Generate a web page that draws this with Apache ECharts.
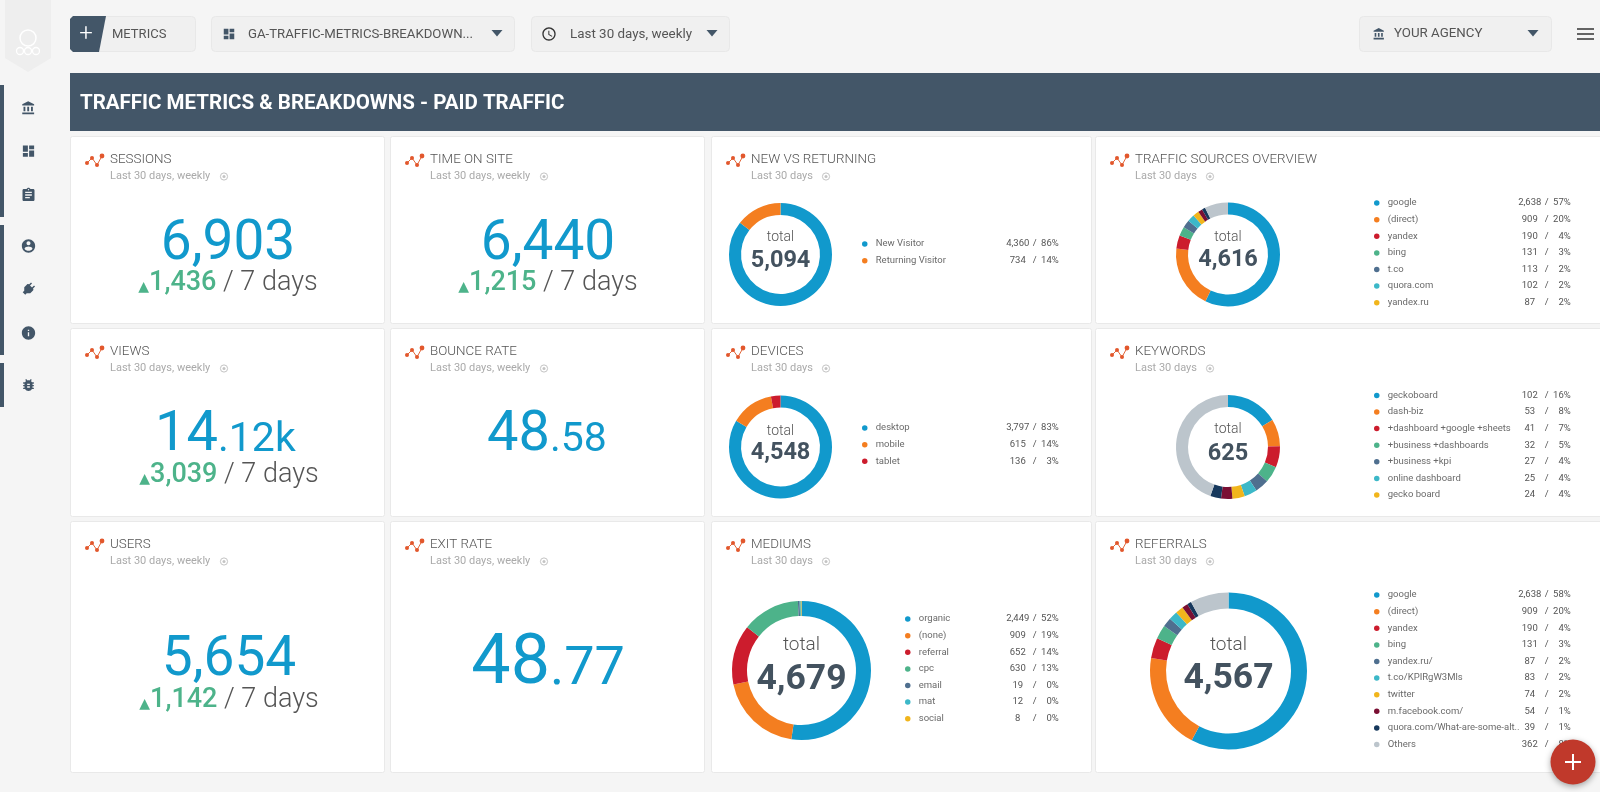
<!DOCTYPE html>
<html>
<head>
<meta charset="utf-8">
<title>Traffic metrics dashboard</title>
<script src="https://cdn.jsdelivr.net/npm/echarts@6/dist/echarts.min.js"></script>
<style>
  html, body { margin: 0; padding: 0; background: #f5f5f5; }
  #main { width: 1600px; height: 792px; }
</style>
</head>
<body>
<div id="main"></div>
<script>
// ---- data ----
var bannerTitle = 'TRAFFIC METRICS & BREAKDOWNS - PAID TRAFFIC';

var kpiTitles = ['SESSIONS', 'TIME ON SITE', 'VIEWS', 'BOUNCE RATE', 'USERS', 'EXIT RATE'];
var kpiMain = ['6,903', '6,440', '14', '48', '5,654', '48'];
var kpiDecimals = ['', '', '.12k', '.58', '', '.77'];
var kpiDeltas = ['1,436', '1,215', '3,039', '', '1,142', ''];

var donutTitles = ['NEW VS RETURNING', 'TRAFFIC SOURCES OVERVIEW', 'DEVICES', 'KEYWORDS', 'MEDIUMS', 'REFERRALS'];
var donutTotals = [5094, 4616, 4548, 625, 4679, 4567];

var visitorNames = ['New Visitor', 'Returning Visitor'];
var visitorValues = [4360, 734];
var sourceNames = ['google', '(direct)', 'yandex', 'bing', 't.co', 'quora.com', 'yandex.ru', 'source 8', 'source 9', 'source rest'];
var sourceValues = [2638, 909, 190, 131, 113, 102, 87, 62, 48, 336];
var deviceNames = ['desktop', 'mobile', 'tablet'];
var deviceValues = [3797, 615, 136];
var keywordNames = ['geckoboard', 'dash-biz', '+dashboard +google +sheets', '+business +dashboards', '+business +kpi', 'online dashboard', 'gecko board', 'keyword 8', 'keyword 9', 'keyword rest'];
var keywordValues = [102, 53, 41, 32, 27, 25, 24, 22, 21, 278];
var mediumNames = ['organic', '(none)', 'referral', 'cpc', 'email', 'mat', 'social'];
var mediumValues = [2449, 909, 652, 630, 19, 12, 8];
var referralNames = ['google', '(direct)', 'yandex', 'bing', 'yandex.ru/', 't.co/KPIRgW3Mls', 'twitter', 'm.facebook.com/', 'quora.com/What-are-some-alt..', 'Others'];
var referralValues = [2638, 909, 190, 131, 87, 83, 74, 54, 39, 362];

var sliceColors = ['#1199cc', '#f47e20', '#cc1c2d', '#4db38a', '#4f6f8f', '#3cb8c8', '#f1b51c', '#7a0f33', '#16385c', '#bcc5cc'];

// ---- layout ----
var FONT = 'Roboto';
var DARK = '#435668';
var cardCols = [[70, 314], [390, 314], [711, 380], [1095, 510]];
var cardRows = [[136, 187], [328, 188], [521, 251]];
var kpiPlaces = [
  { col: 0, row: 0, cx: 228, base: 245, size: 55, small: 55, split: 0, delta: 283 },
  { col: 1, row: 0, cx: 548, base: 245, size: 55, small: 55, split: 0, delta: 283 },
  { col: 0, row: 1, cx: 229, base: 436, size: 56, small: 41, split: 218, delta: 475 },
  { col: 1, row: 1, cx: 548, base: 436, size: 56, small: 41, split: 550, delta: 0 },
  { col: 0, row: 2, cx: 229, base: 661, size: 55, small: 55, split: 0, delta: 700 },
  { col: 1, row: 2, cx: 548, base: 665, size: 70, small: 54, split: 550, delta: 0 }
];
var donutPlaces = [
  { col: 2, row: 0, names: visitorNames, values: visitorValues, shown: 2, cx: 780.5, cy: 254.5, r: 51.5, w: 12, total: 237, num: 261, numSize: 23.5, totalSize: 14, dot: 865, end: 1058, top: 239.1 },
  { col: 3, row: 0, names: sourceNames, values: sourceValues, shown: 7, cx: 1228, cy: 254.5, r: 52, w: 12, total: 237, num: 260, numSize: 23.5, totalSize: 14, dot: 1377, end: 1570, top: 198.1 },
  { col: 2, row: 1, names: deviceNames, values: deviceValues, shown: 3, cx: 780.5, cy: 447, r: 51.5, w: 12, total: 431, num: 453, numSize: 23.5, totalSize: 14, dot: 865, end: 1058, top: 423.1 },
  { col: 3, row: 1, names: keywordNames, values: keywordValues, shown: 7, cx: 1228, cy: 447, r: 52, w: 12, total: 429, num: 454, numSize: 23.5, totalSize: 14, dot: 1377, end: 1570, top: 390.4 },
  { col: 2, row: 2, names: mediumNames, values: mediumValues, shown: 7, cx: 801.5, cy: 670.5, r: 69.5, w: 15, total: 645, num: 680, numSize: 35.5, totalSize: 19, dot: 908, end: 1058, top: 614.1 },
  { col: 3, row: 2, names: referralNames, values: referralValues, shown: 10, cx: 1228.5, cy: 671, r: 78.5, w: 16, total: 645, num: 679, numSize: 35.5, totalSize: 19, dot: 1377, end: 1570, top: 590.1 }
];

var ICONS = {
  bank: 'M4 10v7h3v-7H4zm6 0v7h3v-7h-3zM2 22h19v-3H2v3zm14-12v7h3v-7h-3zm-4.500-9L2 6v2h19V6l-9.500-5z',
  dash: 'M3 13h8V3H3v10zm0 8h8v-6H3v6zm10 0h8V11h-8v10zm0-18v6h8V3h-8z',
  clip: 'M19 3h-4.180C14.400 1.840 13.300 1 12 1c-1.300 0-2.400.840-2.820 2H5c-1.100 0-2 .900-2 2v14c0 1.100.900 2 2 2h14c1.100 0 2-.900 2-2V5c0-1.100-.900-2-2-2zm-7 0c.550 0 1 .450 1 1s-.450 1-1 1-1-.450-1-1 .450-1 1-1zm2 14H7v-2h7v2zm3-4H7v-2h10v2zm0-4H7V7h10v2z',
  user: 'M12 2C6.480 2 2 6.480 2 12s4.480 10 10 10 10-4.480 10-10S17.520 2 12 2zm0 3c1.660 0 3 1.340 3 3s-1.340 3-3 3-3-1.340-3-3 1.340-3 3-3zm0 14.200c-2.500 0-4.710-1.280-6-3.220.030-1.990 4-3.080 6-3.080 1.990 0 5.970 1.090 6 3.080-1.290 1.940-3.500 3.220-6 3.220z',
  plug: 'M16.010 7L16 3h-2v4h-4V3H8v4h-.010C7 6.990 6 7.990 6 8.990v5.490L9.500 18v3h5v-3l3.500-3.510v-5.500c0-1-1-2-1.990-1.990z',
  info: 'M12 2C6.480 2 2 6.480 2 12s4.480 10 10 10 10-4.480 10-10S17.520 2 12 2zm1 15h-2v-6h2v6zm0-8h-2V7h2v2z',
  bug: 'M20 8h-2.810c-.450-.780-1.070-1.450-1.820-1.960L17 4.410 15.590 3l-2.170 2.170C12.960 5.060 12.490 5 12 5c-.490 0-.960.060-1.410.170L8.410 3 7 4.410l1.620 1.630C7.880 6.550 7.260 7.220 6.810 8H4v2h2.090c-.050.330-.090.660-.090 1v1H4v2h2v1c0 .340.040.670.090 1H4v2h2.810c1.040 1.790 2.970 3 5.190 3s4.150-1.210 5.190-3H20v-2h-2.090c.050-.330.090-.660.090-1v-1h2v-2h-2v-1c0-.340-.040-.670-.090-1H20V8zm-6 8h-4v-2h4v2zm0-4h-4v-2h4v2z',
  clock: 'M11.990 2C6.470 2 2 6.480 2 12s4.470 10 9.990 10C17.520 22 22 17.520 22 12S17.520 2 11.990 2zM12 20c-4.420 0-8-3.580-8-8s3.580-8 8-8 8 3.580 8 8-3.580 8-8 8zm.500-13H11v6l5.250 3.150.750-1.230-4.500-2.670z'
};

// the graphic component has no plain path type, so each icon is registered as a shape
Object.keys(ICONS).forEach(function (k) {
  echarts.graphic.registerShape('icon-' + k, echarts.graphic.extendPath(ICONS[k], {}));
});

// ---- small helpers for the page furniture ----
var graphics = [];

function box(x, y, w, h, fill, stroke, r) {
  graphics.push({ type: 'rect', silent: true, z: 0, shape: { x: x, y: y, width: w, height: h, r: r || 0 }, style: { fill: fill, stroke: stroke || null, lineWidth: 1 } });
}
function label(text, x, y, size, color, weight, align) {
  graphics.push({ type: 'text', silent: true, z: 6, x: x, y: y, style: { text: text, fill: color, font: (weight || 400) + ' ' + size + 'px ' + FONT, align: align || 'left', verticalAlign: 'middle' } });
}
function icon(name, cx, cy, size, color, rot) {
  var s = size / 24;
  graphics.push({
    type: 'icon-' + name, silent: true, z: 6,
    x: cx - 12, y: cy - 12, originX: 12, originY: 12,
    scaleX: s, scaleY: s, rotation: rot || 0,
    style: { fill: color }
  });
}
function caret(cx, cy) {
  graphics.push({ type: 'polygon', silent: true, z: 6, shape: { points: [[cx - 5.5, cy - 3], [cx + 5.5, cy - 3], [cx, cy + 3.5]] }, style: { fill: DARK } });
}
function trendIcon(x, y) {
  var pts = [[x, y + 8], [x + 5, y + 3], [x + 10, y + 10], [x + 15, y + 1]];
  graphics.push({ type: 'polyline', silent: true, z: 6, shape: { points: pts }, style: { stroke: '#e2683c', lineWidth: 1, fill: null } });
  pts.forEach(function (p, i) {
    graphics.push({ type: 'circle', silent: true, z: 6, shape: { cx: p[0], cy: p[1], r: i === 3 ? 2.4 : 2 }, style: { fill: '#e2572c' } });
  });
}
function cardHead(col, row, title, sub, markOffset) {
  var x = cardCols[col][0], y = cardRows[row][0];
  box(x + 0.5, y + 0.5, cardCols[col][1], cardRows[row][1], '#fff', '#e9e9e9', 2);
  trendIcon(x + 17, y + 19);
  label(title, x + 40, y + 24, 13.4, '#555', 300);
  label(sub, x + 40, y + 40.5, 11, '#aaa', 400);
  graphics.push({ type: 'circle', silent: true, z: 6, shape: { cx: x + 40 + markOffset, cy: y + 40.5, r: 3.6 }, style: { fill: 'none', stroke: '#c4c4c4', lineWidth: 1 } });
  graphics.push({ type: 'circle', silent: true, z: 6, shape: { cx: x + 40 + markOffset, cy: y + 40.5, r: 1.5 }, style: { fill: '#c4c4c4' } });
}
function fmt(n) { return n.toLocaleString('en-US'); }

// ---- top bar, side bar ----
graphics.push({ type: 'polygon', silent: true, shape: { points: [[5, 0], [51, 0], [51, 58], [28, 72], [5, 58]] }, style: { fill: '#eeeeee' } });
graphics.push({ type: 'circle', silent: true, shape: { cx: 28, cy: 38, r: 8 }, style: { fill: 'none', stroke: '#fff', lineWidth: 1.5 } });
[[20, 51], [28, 51], [36, 51]].forEach(function (p) {
  graphics.push({ type: 'circle', silent: true, shape: { cx: p[0], cy: p[1], r: 3.5 }, style: { fill: 'none', stroke: '#fff', lineWidth: 1.3 } });
});

box(0, 85, 4, 132, DARK);
box(0, 225, 4, 130, DARK);
box(0, 363, 4, 44, DARK);
icon('bank', 28.5, 108, 15, DARK);
icon('dash', 28.5, 151, 15, DARK);
icon('clip', 28.5, 195, 16, DARK);
icon('user', 28.5, 246, 16, DARK);
icon('plug', 28.5, 289, 17, DARK, -Math.PI / 4);
icon('info', 28.5, 333, 16, DARK);
icon('bug', 28.5, 385, 16, DARK);

box(70.5, 16.5, 125, 35, '#f0f0f0', '#e8e8e8', 4);
graphics.push({ type: 'polygon', silent: true, z: 1, shape: { points: [[73, 16], [106, 16], [99, 52], [73, 52], [70, 49], [70, 19]] }, style: { fill: DARK } });
label('+', 86, 35, 24, '#fff', 300, 'center');
label('METRICS', 112, 35, 13, '#555', 400);

box(211.5, 16.5, 303, 35, '#f0f0f0', '#e8e8e8', 4);
icon('dash', 229, 34, 14, DARK);
label('GA-TRAFFIC-METRICS-BREAKDOWN...', 248, 35, 13.2, '#555', 400);
caret(497, 33);

box(531.5, 16.5, 198, 35, '#f0f0f0', '#e8e8e8', 4);
icon('clock', 549, 34, 16, '#333');
label('Last 30 days, weekly', 570, 35, 13.4, '#555', 400);
caret(712, 33);

box(1359.5, 16.5, 192, 35, '#f0f0f0', '#e8e8e8', 4);
icon('bank', 1379, 34, 13, DARK);
label('YOUR AGENCY', 1394, 34, 13.3, '#555', 400);
caret(1533, 33);

[29, 34, 39].forEach(function (y) { box(1577, y - 0.75, 17, 1.5, '#333'); });

box(70, 73, 1530, 58, DARK);
label(bannerTitle, 80, 104, 20.5, '#fff', 700);

// ---- number cards ----
kpiTitles.forEach(function (title, i) {
  var p = kpiPlaces[i];
  cardHead(p.col, p.row, title, 'Last 30 days, weekly', 114);
  if (kpiDecimals[i]) {
    label(kpiMain[i], p.split, p.base, p.size, '#1199cc', 400, 'right');
    // decimals sit on the same baseline as the big digits
    label(kpiDecimals[i], p.split, p.base + (p.size - p.small) * 0.34, p.small, '#1199cc', 400, 'left');
  } else {
    label(kpiMain[i], p.cx, p.base, p.size, '#1199cc', 400, 'center');
  }
  if (kpiDeltas[i]) {
    graphics.push({
      type: 'text', silent: true, z: 6, x: p.cx, y: p.delta,
      style: {
        text: '{t|▲}{g|' + kpiDeltas[i] + '}{r| / 7 days}', align: 'center', verticalAlign: 'middle',
        rich: {
          t: { fontFamily: 'DejaVu Sans', fontSize: 14, fill: '#4db38a', verticalAlign: 'bottom', padding: [0, 0, 2, 0] },
          g: { fontFamily: FONT, fontSize: 27, fontWeight: 500, fill: '#4db38a' },
          r: { fontFamily: FONT, fontSize: 27, fontWeight: 300, fill: '#555' }
        }
      }
    });
  }
});

// ---- donut cards ----
var pieSeries = [];
var legends = [];

donutTitles.forEach(function (title, i) {
  var p = donutPlaces[i];
  cardHead(p.col, p.row, title, 'Last 30 days', 75);
  label('total', p.cx, p.total, p.totalSize, '#555', 300, 'center');
  label(fmt(donutTotals[i]), p.cx, p.num, p.numSize, '#43525f', 700, 'center');

  pieSeries.push({
    type: 'pie',
    name: title,
    silent: true,
    animation: false,
    center: [p.cx, p.cy],
    radius: [p.r - p.w, p.r],
    startAngle: 90,
    label: { show: false },
    labelLine: { show: false },
    data: p.names.map(function (n, k) {
      return { name: n, value: p.values[k], itemStyle: { color: sliceColors[k] } };
    })
  });

  var left = p.dot - 3;
  var nameWidth = p.end - left - 13 - 54;
  legends.push({
    orient: 'vertical',
    left: left,
    top: p.top,
    padding: 0,
    itemGap: 6.6,
    itemWidth: 12,
    itemHeight: 5.5,
    icon: 'circle',
    selectedMode: false,
    data: p.names.slice(0, p.shown),
    formatter: function (name) {
      var k = p.names.indexOf(name);
      var pct = Math.round(p.values[k] / donutTotals[i] * 100);
      return '{n|' + name + '}{v|' + fmt(p.values[k]) + '}{s|/}{p|' + pct + '%}';
    },
    textStyle: {
      rich: {
        n: { width: nameWidth, fontFamily: FONT, fontSize: 9.5, fontWeight: 400, color: '#6a6a6a' },
        v: { width: 26, align: 'right', fontFamily: FONT, fontSize: 9.5, color: '#555' },
        s: { width: 8, align: 'center', fontFamily: FONT, fontSize: 9.5, color: '#555' },
        p: { width: 20, align: 'right', fontFamily: FONT, fontSize: 9.5, color: '#555' }
      }
    }
  });
});

// ---- round add button ----
graphics.push({
  type: 'circle', silent: true, z: 20, shape: { cx: 1573, cy: 762, r: 22.5 },
  style: { fill: '#c0392b', shadowBlur: 6, shadowColor: 'rgba(0,0,0,0.35)', shadowOffsetY: 2 }
});
graphics.push({ type: 'rect', silent: true, z: 21, shape: { x: 1565, y: 761, width: 16, height: 2 }, style: { fill: '#fff' } });
graphics.push({ type: 'rect', silent: true, z: 21, shape: { x: 1572, y: 754, width: 2, height: 16 }, style: { fill: '#fff' } });

var chart = echarts.init(document.getElementById('main'));
chart.setOption({
  backgroundColor: '#f5f5f5',
  animation: false,
  tooltip: { show: false },
  legend: legends,
  series: pieSeries,
  graphic: { elements: graphics }
});
</script>
</body>
</html>
